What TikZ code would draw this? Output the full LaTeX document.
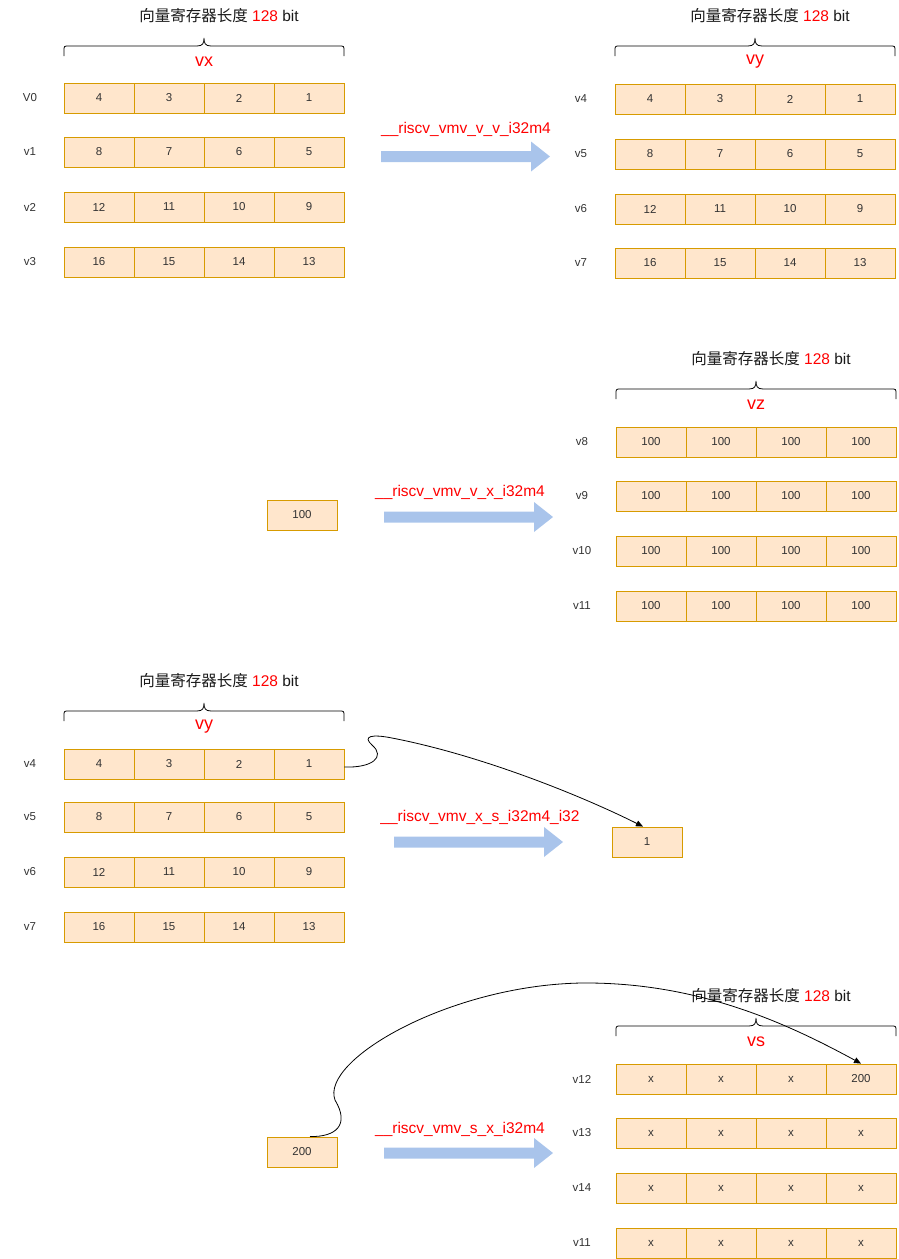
\documentclass[tikz,border=0pt]{standalone}
\usepackage{fontspec}
\setmainfont{Liberation Sans}
\newfontfamily\cjk{Noto Sans CJK SC}
\usetikzlibrary{arrows.meta}
\definecolor{cellfill}{HTML}{FFE6CC}
\definecolor{celldraw}{HTML}{D79B00}
\definecolor{fatblue}{HTML}{A9C4EB}
\definecolor{txt}{HTML}{333333}
\newcommand{\myrow}[5]{% name, xleft, ycenter, label, values
  \node[rowlab] (#1-lab) at ({#2-34},#3) {#4};
  \foreach \v [count=\i] in {#5} {\node[cell] (#1-\i) at ({#2+70*\i-35},#3) {\v};}
}
\newcommand{\myblock}[4]{% prefix, xleft, titley, regname
  \node[titletext] (#1-title) at ({#2+155},#3) {{\cjk 向量寄存器长度} \textcolor{red}{128} bit};
  \draw[bracestyle] (#2,{#3+40}) -- (#2,{#3+35}) .. controls (#2,{#3+30}) .. ({#2+5},{#3+30})
     -- ({#2+133},{#3+30}) .. controls ({#2+139},{#3+30}) and ({#2+140},{#3+27}) .. ({#2+140},{#3+22})
     .. controls ({#2+140},{#3+27}) and ({#2+141},{#3+30}) .. ({#2+147},{#3+30}) -- ({#2+275},{#3+30})
     .. controls ({#2+280},{#3+30}) .. ({#2+280},{#3+35}) -- ({#2+280},{#3+40});
  \node[reglab] (#1-reg) at ({#2+140},{#3+46}) {#4};
}
\newcommand{\fatarrow}[3]{% xstart, xend, ycenter
  \fill[fatblue] (#1,{#3-5.5}) -- ({#2-19},{#3-5.5}) -- ({#2-19},{#3-15}) -- (#2,#3)
    -- ({#2-19},{#3+15}) -- ({#2-19},{#3+5.5}) -- (#1,{#3+5.5}) -- cycle;
}
\begin{document}
\begin{tikzpicture}[x=1pt,y=-1pt,
  cell/.style={draw=celldraw, fill=cellfill, line width=0.9pt, minimum width=70pt, minimum height=30pt, inner sep=0pt, text=txt, font=\fontsize{11.5}{13}\selectfont},
  rowlab/.style={text=txt, font=\fontsize{11.5}{13}\selectfont, inner sep=0pt},
  titletext/.style={text=black!90, font=\fontsize{15.5}{18}\selectfont, inner sep=0pt},
  reglab/.style={text=red, font=\fontsize{18}{20}\selectfont, inner sep=0pt},
  oplab/.style={text=red, font=\fontsize{15.5}{18}\selectfont, inner sep=0pt},
  bracestyle/.style={draw=black, line width=0.8pt},
  link/.style={draw=black, line width=0.8pt, -{Triangle[length=7pt,width=6pt]}}]
\useasboundingbox (0,0) rectangle (898,1259);
% ---------- section 1 ----------
\myblock{s1l}{64}{16}{vx}
\myrow{s1a}{64}{98}{V0}{4,3,2,1}
\myrow{s1b}{64}{152}{v1}{8,7,6,5}
\myrow{s1c}{64}{207}{v2}{12,11,10,9}
\myrow{s1d}{64}{262}{v3}{16,15,14,13}
\myblock{s1r}{615}{16}{vy}
\myrow{s1e}{615}{99}{v4}{4,3,2,1}
\myrow{s1f}{615}{154}{v5}{8,7,6,5}
\myrow{s1g}{615}{209}{v6}{12,11,10,9}
\myrow{s1h}{615}{263}{v7}{16,15,14,13}
\fatarrow{381}{550}{156.5}
\node[oplab] (op1) at (466,129) {\_\_riscv\_vmv\_v\_v\_i32m4};
% ---------- section 2 ----------
\node[cell] (b100) at (302,515) {100};
\fatarrow{384}{553}{517}
\node[oplab] (op2) at (460,492) {\_\_riscv\_vmv\_v\_x\_i32m4};
\myblock{s2r}{616}{359}{vz}
\myrow{s2a}{616}{442}{v8}{100,100,100,100}
\myrow{s2b}{616}{496}{v9}{100,100,100,100}
\myrow{s2c}{616}{551}{v10}{100,100,100,100}
\myrow{s2d}{616}{606}{v11}{100,100,100,100}
% ---------- section 3 ----------
\myblock{s3l}{64}{681}{vy}
\myrow{s3a}{64}{764}{v4}{4,3,2,1}
\myrow{s3b}{64}{817}{v5}{8,7,6,5}
\myrow{s3c}{64}{872}{v6}{12,11,10,9}
\myrow{s3d}{64}{927}{v7}{16,15,14,13}
\node[cell] (one) at (647,842) {1};
\fatarrow{394}{563}{842}
\node[oplab] (op3) at (480,817) {\_\_riscv\_vmv\_x\_s\_i32m4\_i32};
\draw[link] ([yshift=-3pt]s3a-4.east) .. controls (372,768) and (386,757) .. (372,745)
   .. controls (362,736) and (372,734) .. (392,738)
   .. controls (480,755) and (580,795) .. ([xshift=-4pt]one.north);
% ---------- section 4 ----------
\myblock{s4r}{616}{996}{vs}
\myrow{s4a}{616}{1079}{v12}{x,x,x,200}
\myrow{s4b}{616}{1133}{v13}{x,x,x,x}
\myrow{s4c}{616}{1188}{v14}{x,x,x,x}
\myrow{s4d}{616}{1243}{v11}{x,x,x,x}
\node[cell] (b200) at (302,1152) {200};
\fatarrow{384}{553}{1153}
\node[oplab] (op4) at (460,1129) {\_\_riscv\_vmv\_s\_x\_i32m4};
\draw[link] ([xshift=8pt]b200.north) .. controls (336,1137) and (350,1125) .. (335,1100)
   .. controls (320,1060) and (450,985) .. (582,983)
   .. controls (700,982) and (790,1025) .. (s4a-4.north);
\end{tikzpicture}
\end{document}
